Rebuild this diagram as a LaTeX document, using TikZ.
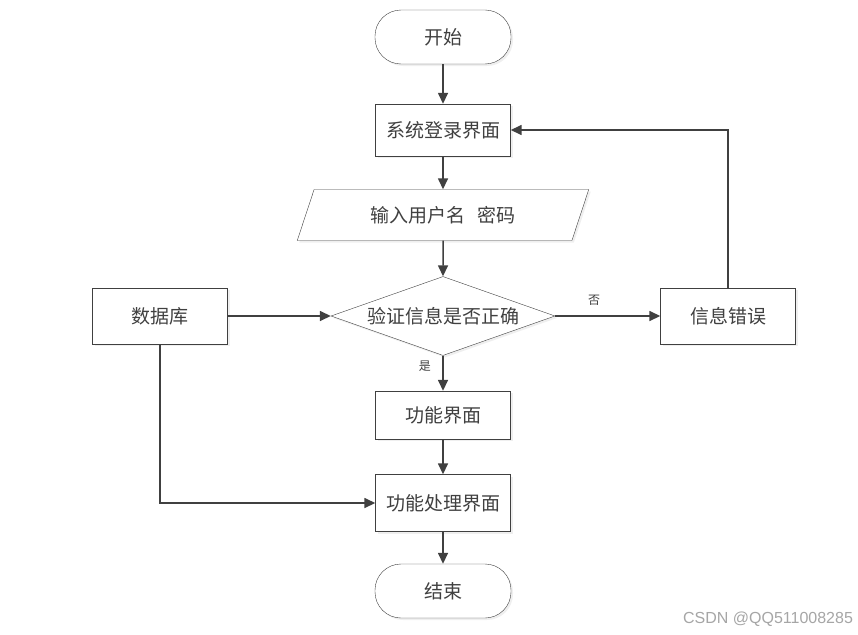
\documentclass[tikz,border=0pt]{standalone}
\usepackage{fontspec}
\newfontfamily\cjk{Noto Sans CJK SC}
\newfontfamily\wmfont{Liberation Sans}
\usetikzlibrary{arrows.meta,shapes.geometric,shadows}
\definecolor{ink}{HTML}{404040}
\tikzset{l/.style={font=\cjk\fontsize{12}{12}\selectfont, text=ink}}
\tikzset{m/.style={font=\cjk\fontsize{19}{19}\selectfont, text=ink}}
\tikzset{boxshadow/.style={drop shadow={opacity=0.12, shadow xshift=2pt, shadow yshift=-2pt}}}
\tikzset{term/.style={m, draw=ink, fill=white, boxshadow, rectangle, rounded corners=26pt, minimum width=136pt, minimum height=54pt}}
\tikzset{proc/.style={m, draw=ink, fill=white, boxshadow, rectangle, minimum width=135pt, minimum height=52pt}}
\tikzset{io/.style={m, draw=ink, fill=white, boxshadow, trapezium, trapezium left angle=68, trapezium right angle=112, trapezium stretches=true, minimum width=292pt, minimum height=51pt}}
\tikzset{decide/.style={m, draw=ink, fill=white, boxshadow, diamond, aspect=2.8, inner sep=0pt, minimum width=224pt, minimum height=79pt}}
\tikzset{arr/.style={draw=ink, line width=1.5pt, -{Triangle[length=11pt,width=10pt]}}}

\begin{document}
\begin{tikzpicture}[x=1pt,y=-1pt]
  \useasboundingbox[fill=white] (0,0) rectangle (858,634);
  % nodes
  \node[term] (start) at (443,37) {开始};
  \node[proc] (login) at (443,130) {系统登录界面};
  \node[io] (input) at (443,215) {输入用户名\hspace{0.6em}密码};
  \node[decide] (check) at (443,316) {验证信息是否正确};
  \node[proc, minimum height=56pt] (db) at (160,316) {数据库};
  \node[proc, minimum height=56pt] (err) at (728,316) {信息错误};
  \node[proc, minimum height=48pt] (func) at (443,415) {功能界面};
  \node[proc, minimum height=57pt] (handle) at (443,503) {功能处理界面};
  \node[term] (stop) at (443,591) {结束};
  % connectors
  \draw[arr] (start) -- (login);
  \draw[arr] (login) -- (input);
  \draw[arr] (input) -- (check);
  \draw[arr] (db) -- (check);
  \draw[arr] (check) -- node[l, above=6pt, pos=.37] {否} (err);
  \draw[arr] (err.north) |- (login.east);
  \draw[arr] (check) -- node[l, left=8pt, pos=.3] {是} (func);
  \draw[arr] (func) -- (handle);
  \draw[arr] (db.south) |- (handle.west);
  \draw[arr] (handle) -- (stop);
  % watermark
  \node[font=\wmfont\fontsize{16}{16}\selectfont, text=black!35] (mark) at (768,619) {CSDN @QQ511008285};
\end{tikzpicture}
\end{document}
